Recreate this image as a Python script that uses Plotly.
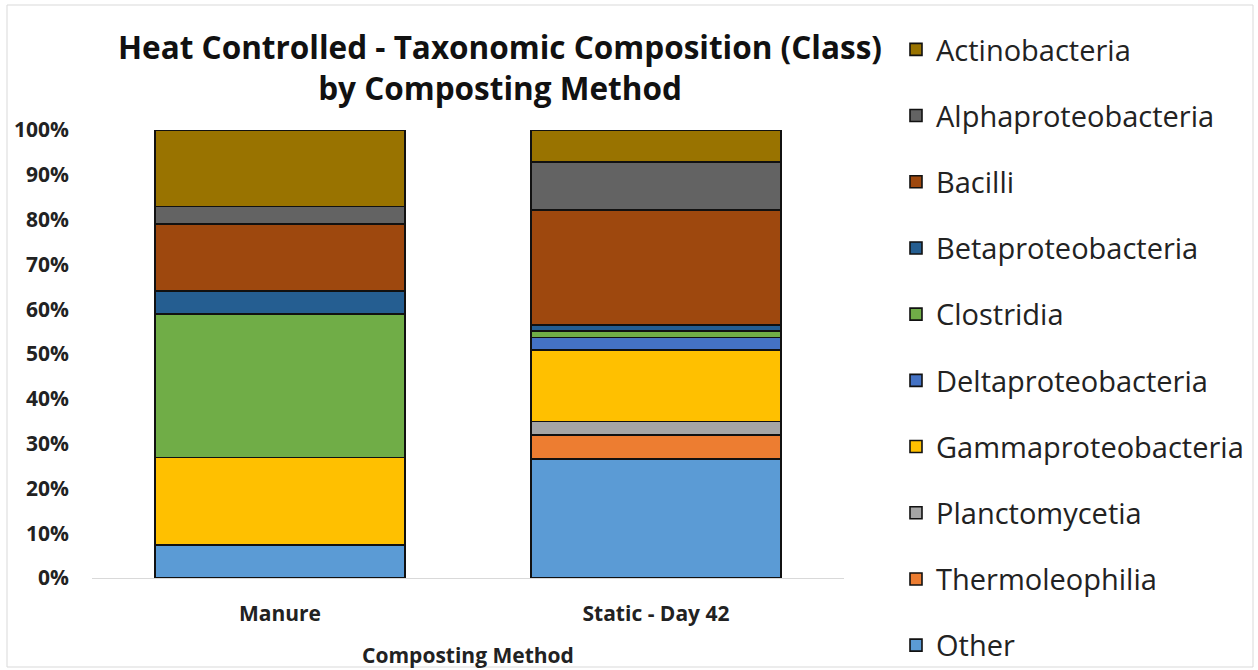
import plotly.graph_objects as go

# Composting methods on the x axis
methods = ["Manure", "Static - Day 42"]

# Relative abundance (%) of each bacterial class, bottom of the stack first
other = [7.4, 26.6]
thermoleophilia = [0.0, 5.3]
planctomycetia = [0.0, 3.0]
gammaproteobacteria = [19.5, 16.0]
deltaproteobacteria = [0.0, 2.8]
clostridia = [32.0, 1.5]
betaproteobacteria = [5.2, 1.3]
bacilli = [14.9, 25.6]
alphaproteobacteria = [3.9, 10.7]
actinobacteria = [17.1, 7.2]

series = [
    ("Other", other, "#5B9BD5"),
    ("Thermoleophilia", thermoleophilia, "#ED7D31"),
    ("Planctomycetia", planctomycetia, "#A5A5A5"),
    ("Gammaproteobacteria", gammaproteobacteria, "#FFC000"),
    ("Deltaproteobacteria", deltaproteobacteria, "#4472C4"),
    ("Clostridia", clostridia, "#70AD47"),
    ("Betaproteobacteria", betaproteobacteria, "#255E91"),
    ("Bacilli", bacilli, "#9E480E"),
    ("Alphaproteobacteria", alphaproteobacteria, "#636363"),
    ("Actinobacteria", actinobacteria, "#997300"),
]

FONT = "Open Sans"
W, H = 1258, 670
L, R, T, B = 92, 414, 130, 92

fig = go.Figure()
n = len(series)
for i, (name, vals, color) in enumerate(series):
    fig.add_trace(go.Bar(
        x=methods,
        y=[v / 100 for v in vals],
        name=name,
        legendgroup=name,
        legendrank=n - i,  # top of the stack listed first
        marker=dict(color=color, line=dict(color="#111111", width=1.6)),
    ))

plot_w = W - L - R
plot_h = H - T - B

fig.update_layout(
    width=W,
    height=H,
    barmode="stack",
    bargap=0.335,
    paper_bgcolor="white",
    plot_bgcolor="white",
    margin=dict(l=L, r=R, t=T, b=B, autoexpand=False),
    font=dict(family=FONT, color="#404040"),
    title=dict(
        text="<b>Heat Controlled - Taxonomic Composition (Class)<br>by Composting Method</b>",
        x=500 / W,
        xanchor="center",
        y=1 - 59 / H,
        yanchor="middle",
        font=dict(family=FONT, size=31.5, color="#111111"),
    ),
    legend=dict(
        traceorder="grouped",
        tracegroupgap=25.5,
        maxheight=H,
        x=(896 - L) / plot_w,
        xanchor="left",
        y=1 + (T - 24) / plot_h,
        yanchor="top",
        font=dict(family=FONT, size=29, color="#222222"),
        bgcolor="rgba(0,0,0,0)",
    ),
    xaxis=dict(
        showline=True,
        linecolor="#D9D9D9",
        linewidth=1,
        ticks="",
        tickfont=dict(family=FONT, size=21, color="#222222", weight="bold"),
        ticklabelstandoff=17,
        title=dict(
            text="<b>Composting Method</b>",
            font=dict(family=FONT, size=21, color="#222222"),
            standoff=22,
        ),
    ),
    yaxis=dict(
        range=[0, 1],
        tickvals=[i / 10 for i in range(11)],
        tickformat=".0%",
        showgrid=False,
        zeroline=False,
        showline=False,
        tickfont=dict(family=FONT, size=21, color="#222222", weight="bold"),
        ticklabelstandoff=22,
    ),
    shapes=[
        dict(
            type="rect",
            xref="paper",
            yref="paper",
            x0=(7 - L) / plot_w,
            x1=(1253 - L) / plot_w,
            y0=-(667 - (H - B)) / plot_h,
            y1=1 + (T - 5) / plot_h,
            line=dict(color="#D9D9D9", width=1),
            layer="below",
        )
    ],
)

fig.write_html("out.html")
